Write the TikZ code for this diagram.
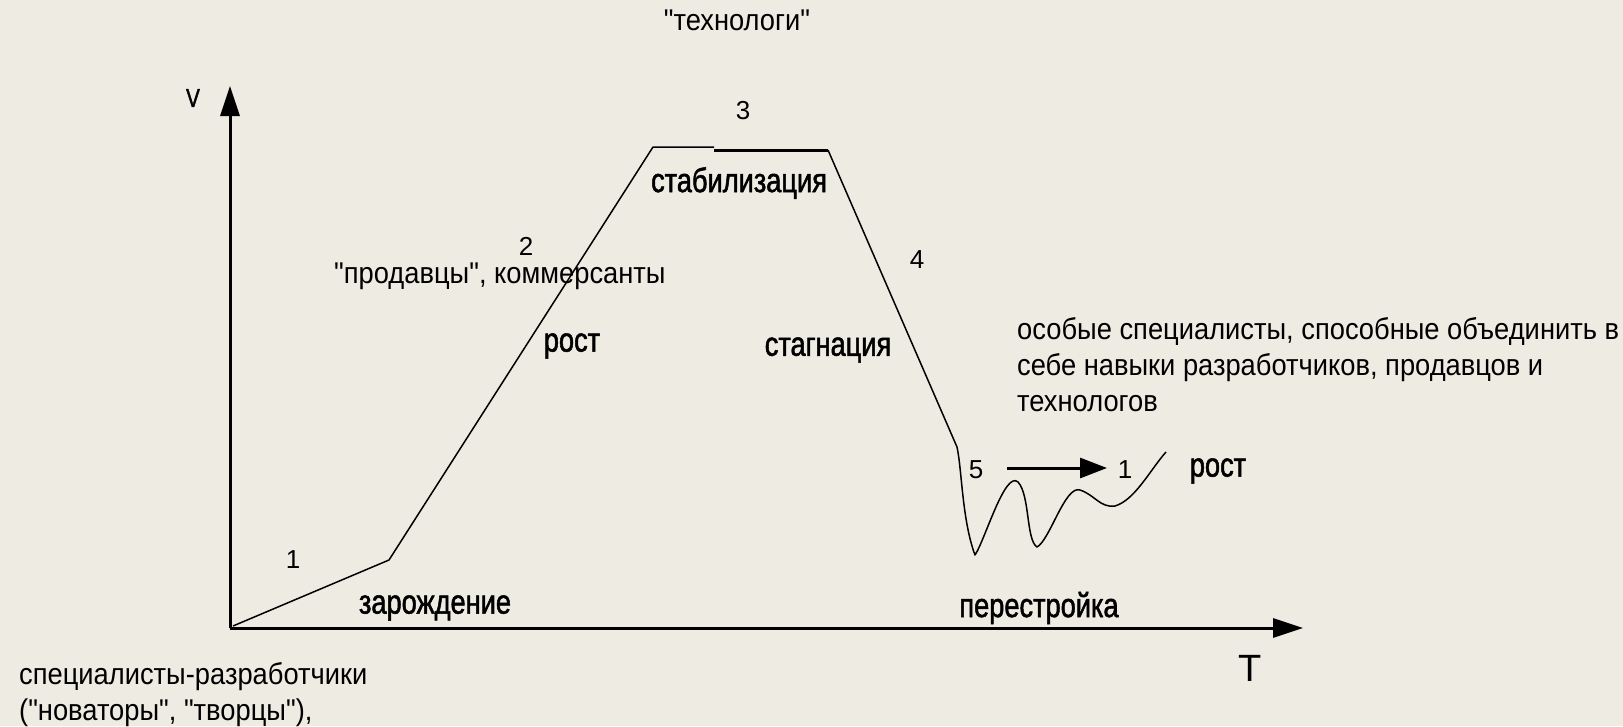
\documentclass[tikz,border=0pt]{standalone}
\usepackage{fontspec}
\setmainfont{Liberation Sans}
\newfontfamily\narrowfont[FakeStretch=0.91]{Liberation Sans}
\newfontfamily\pixfont[FakeStretch=0.8,FakeBold=1.5]{Liberation Sans}
\usetikzlibrary{arrows.meta}
\definecolor{bgc}{HTML}{EEEBE3}
\tikzset{
  prose/.style={inner sep=0pt, font=\narrowfont\fontsize{30}{36}\selectfont, align=left},
  pix/.style={inner sep=0pt, font=\pixfont\fontsize{34}{38}\selectfont},
  num/.style={inner sep=0pt, font=\fontsize{26}{30}\selectfont},
  axis/.style={line width=3pt, -{Triangle[length=30pt,width=19pt]}},
  curve/.style={line width=1.5pt, line join=round},
  smallarrow/.style={line width=3pt, -{Triangle[length=27pt,width=20pt]}}
}
\begin{document}
\begin{tikzpicture}[x=1pt,y=-1pt]
\fill[bgc] (0,0) rectangle (1623,726);
\useasboundingbox (0,0) rectangle (1623,726);

% axes
\coordinate (O) at (230,628);
\coordinate (Ytip) at (230,86);
\coordinate (Xtip) at (1303,628);
\draw[axis] (O) -- (Ytip);
\draw[axis] (O) -- (Xtip);
\node[inner sep=0pt, font=\pixfont\fontsize{26}{28}\selectfont] (V) at (193,98) {V};
\node[inner sep=0pt, font=\fontsize{38}{40}\selectfont] (T) at (1250,668) {T};

% curve
\coordinate (c0) at (233,626);
\coordinate (c1) at (389,560);
\coordinate (c2) at (653,147);
\coordinate (c3) at (714,147);
\coordinate (c4) at (714,150);
\coordinate (c5) at (828,150);
\coordinate (c6) at (957,447);
\draw[curve] (c0) -- (c1) -- (c2) -- (c3);
\draw[line width=3pt] (c4) -- (c5);
\draw[curve] (c5) -- (c6)
  .. controls (962,470) and (962,520) .. (975,555)
  .. controls (985,540) and (1005,470) .. (1018,482)
  .. controls (1030,495) and (1026,540) .. (1037,547)
  .. controls (1050,540) and (1065,485) .. (1080,490)
  .. controls (1095,495) and (1100,508) .. (1115,506)
  .. controls (1135,500) and (1150,470) .. (1166,452);

% small arrow
\coordinate (a0) at (1007,468);
\coordinate (a1) at (1107,468);
\draw[smallarrow] (a0) -- (a1);

% numbers
\node[num] (n1) at (293,560) {1};
\node[num] (n2) at (526,246) {2};
\node[num] (n3) at (743,111) {3};
\node[num] (n4) at (917,260) {4};
\node[num] (n5) at (976,470) {5};
\node[num] (n1b) at (1125,470) {1};

% pixel labels
\node[pix] (zar) at (435,608) {зарождение};
\node[pix] (rost1) at (572,346) {рост};
\node[pix] (stab) at (739,183) {стабилизация};
\node[pix] (stag) at (828,350) {стагнация};
\node[pix] (per) at (1039,608) {перестройка};
\node[pix] (rost2) at (1218,471) {рост};

% prose
\node[prose, anchor=base] (tech) at (737,30) {"технологи"};
\node[prose, anchor=base west] (prod) at (334,283) {"продавцы", коммерсанты};
\node[prose, anchor=base west] (spec) at (1017,411) {особые специалисты, способные объединить в\\себе навыки разработчиков, продавцов и\\технологов};
\node[prose, anchor=base west] (razr) at (19,720) {специалисты-разработчики\\("новаторы", "творцы"),};
\end{tikzpicture}
\end{document}
